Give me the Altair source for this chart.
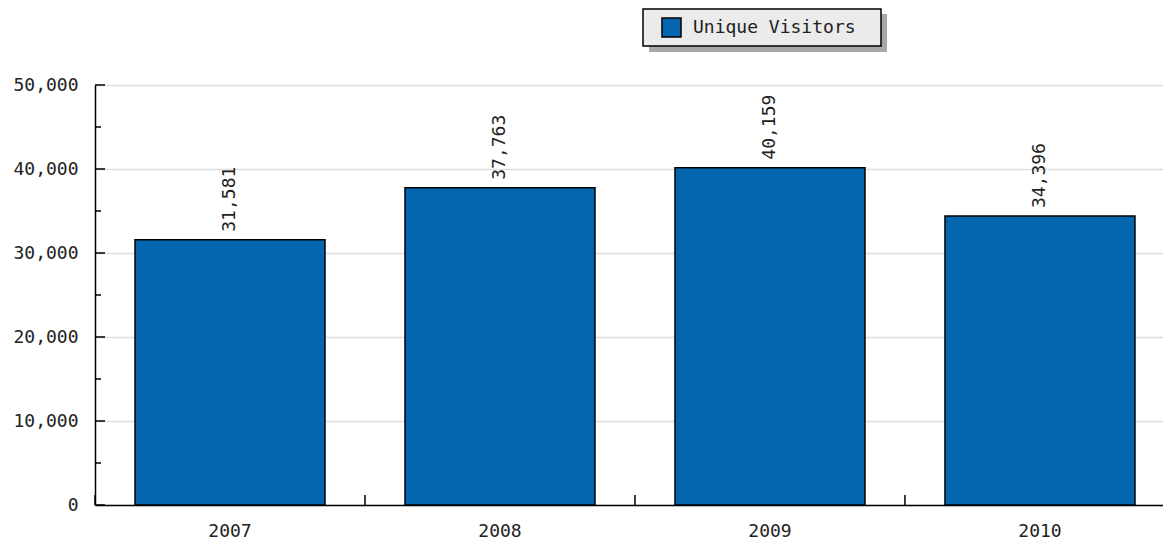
import altair as alt
import pandas as pd

years = ["2007", "2008", "2009", "2010"]
visitors = [31581, 37763, 40159, 34396]
series_name = "Unique Visitors"
y_ticks = [0, 5000, 10000, 15000, 20000, 25000, 30000, 35000, 40000, 45000, 50000]
y_labels = [0, 10000, 20000, 30000, 40000, 50000]

FONT = "DejaVu Sans Mono"
FS = 18
BAR = "#0566b0"

df = pd.DataFrame({"year": years, "visitors": visitors, "series": [series_name] * len(years)})
ticks_df = pd.DataFrame({"v": y_ticks, "major": [v % 10000 == 0 for v in y_ticks]})
leg_df = pd.DataFrame({"series": [series_name]})

H = 420
W = 1068
xs = alt.Scale(paddingInner=0.2963, paddingOuter=0.126, align=0.588)
ys = alt.Scale(domain=[0, 50000], nice=False)
cs = alt.Scale(domain=[series_name], range=[BAR])

x_enc = alt.X("year:N", scale=xs, sort=years,
              axis=alt.Axis(title=None, ticks=False, labelAngle=0, labelPadding=17,
                            domainColor="black", domainWidth=1.5, grid=False,
                            labelFont=FONT, labelFontSize=FS, labelColor="#222"))
y_enc = alt.Y("visitors:Q", scale=ys,
              axis=alt.Axis(title=None, values=y_labels, format=",d", ticks=False,
                            labelPadding=17, domainColor="black", domainWidth=1.5,
                            gridColor="#dedede", gridWidth=1.5,
                            labelFont=FONT, labelFontSize=FS, labelColor="#222"))

bars = alt.Chart(df).mark_bar(stroke="black", strokeWidth=1.5).encode(
    x=x_enc, y=y_enc, color=alt.Color("series:N", scale=cs, legend=None)
)

labels = alt.Chart(df).mark_text(angle=270, align="left", baseline="middle", dx=8,
                                 font=FONT, fontSize=FS, color="#222").encode(
    x=alt.X("year:N", sort=years),
    y=alt.Y("visitors:Q"),
    text=alt.Text("visitors:Q", format=",d"),
)

# separator ticks midway between bars
sep = alt.Chart(df).mark_rule(color="black", strokeWidth=1.5, xOffset=-40).encode(
    x=alt.X("year:N", sort=years, bandPosition=0),
    y=alt.value(H), y2=alt.value(H - 10),
)

major = alt.Chart(ticks_df).transform_filter("datum.major").mark_rule(color="black", strokeWidth=1.5).encode(
    y=alt.Y("v:Q"), x=alt.value(0), x2=alt.value(10)
)
minor = alt.Chart(ticks_df).transform_filter("!datum.major").mark_rule(color="black", strokeWidth=1.5).encode(
    y=alt.Y("v:Q"), x=alt.value(0), x2=alt.value(6)
)

# manual legend
shadow = alt.Chart(leg_df).mark_rect(color="#a8a8a8").encode(
    x=alt.value(554), x2=alt.value(792), y=alt.value(-71), y2=alt.value(-33)
)
box = alt.Chart(leg_df).mark_rect(fill="#ebebeb", stroke="black", strokeWidth=1.5).encode(
    x=alt.value(548), x2=alt.value(786), y=alt.value(-76), y2=alt.value(-39)
)
sym = alt.Chart(leg_df).mark_rect(stroke="black", strokeWidth=1.5).encode(
    x=alt.value(567), x2=alt.value(586), y=alt.value(-67), y2=alt.value(-48),
    color=alt.Color("series:N", scale=cs, legend=None)
)
ltext = alt.Chart(leg_df).mark_text(align="left", baseline="middle", font=FONT,
                                     fontSize=FS, color="#222").encode(
    x=alt.value(598), y=alt.value(-57), text="series:N"
)

chart = alt.layer(bars, labels, sep, major, minor, shadow, box, sym, ltext).properties(
    width=W, height=H,
    autosize=alt.AutoSizeParams(type="none"),
    padding={"left": 87, "top": 77, "right": 0, "bottom": 34},
).configure_view(stroke=None).configure(background="white")

chart.save("out.html", embed_options={"renderer": "svg", "actions": False})
